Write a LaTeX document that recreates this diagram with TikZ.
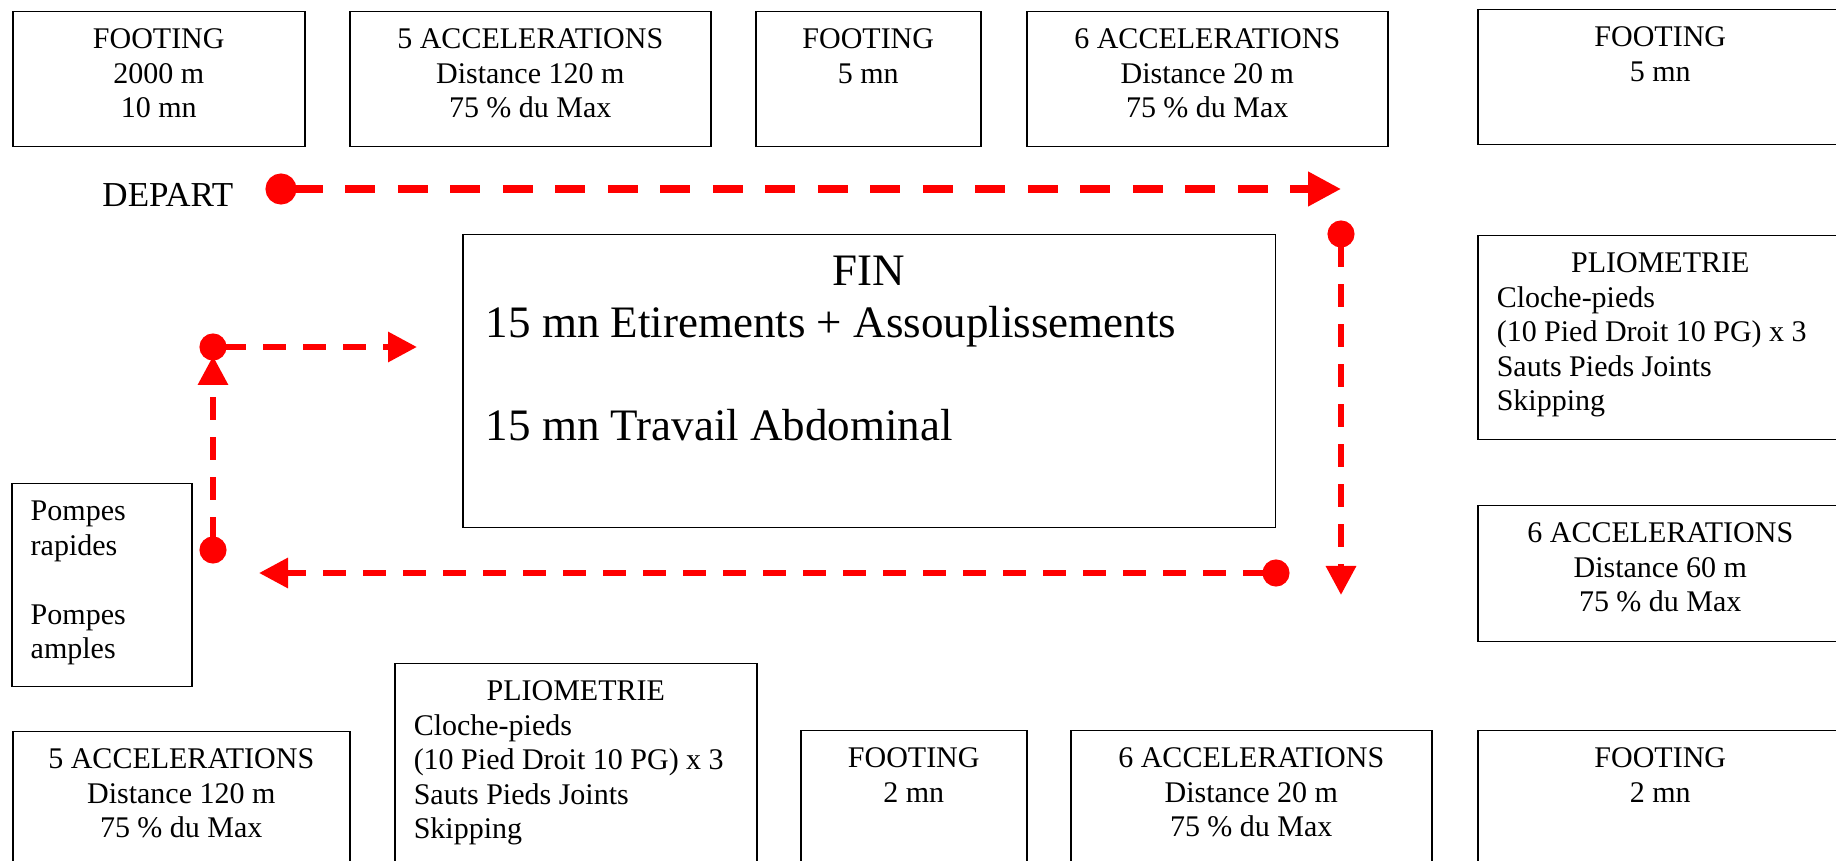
\documentclass[tikz,border=0pt]{standalone}
\usepackage{fontspec}
\setmainfont{Liberation Serif}
\usetikzlibrary{arrows.meta}

\tikzset{
  stage/.style 2 args={draw, line width=0.6pt, anchor=north west,
    inner xsep=7.6pt, inner ysep=0pt, align=flush center,
    font=\fontsize{12}{13.8}\selectfont,
    text width=#1-15.2pt, text height=14.8pt, text depth=#2-14.8pt},
  route/.style={draw=red, line width=2.5pt, dash pattern=on 9.2pt off 6.8pt,
    arrows={Circle[length=10.8pt]-Triangle[length=11.6pt,width=11.6pt]},
    shorten <=-5.4pt}
}

\begin{document}
\begin{tikzpicture}[x=1pt,y=-1pt]

      \useasboundingbox (0,0) rectangle (734.4,344.4);
      \clip (0,0) rectangle (734.4,344.4);

      \path node (foot1) at (4.8,4.4) [stage={116.8pt}{54pt}]
            {FOOTING\\2000 m\\10 mn};
      \path node (accel1) at (139.6,4.4) [stage={144.4pt}{54pt}]
            {5 ACCELERATIONS\\Distance 120 m\\75 \% du Max};
      \path node (foot2) at (302,4.4) [stage={90pt}{54pt}]
            {FOOTING\\5 mn};
      \path node (accel2) at (410.4,4.4) [stage={144.4pt}{54pt}]
            {6 ACCELERATIONS\\Distance 20 m\\75 \% du Max};
      \path node (foot3) at (590.8,3.6) [stage={146pt}{54pt}]
            {FOOTING\\5 mn};

      \path node (plio1) at (590.8,94) [stage={146pt}{81.6pt},align=flush left]
            {{\centering PLIOMETRIE\par}Cloche-pieds\\(10 Pied Droit 10 PG) x 3\\
             Sauts Pieds Joints\\Skipping};
      \path node (accel3) at (590.8,202) [stage={146pt}{54.4pt}]
            {6 ACCELERATIONS\\Distance 60 m\\75 \% du Max};

      \path node (pompes) at (4.4,193.2) [stage={72pt}{81.2pt},align=flush left]
            {Pompes\\rapides\\[13.8pt]Pompes\\amples};

      \path node (fin) at (184.8,93.6)
            [stage={325pt}{117.2pt},align=flush left,inner xsep=9.2pt,
             font=\fontsize{18}{20.7}\selectfont,
             text width=306.6pt,text height=20.4pt,text depth=96.8pt]
            {{\centering FIN\par}15 mn Etirements + Assouplissements\\[20.7pt]
             15 mn Travail Abdominal};

      \path node (accel4) at (4.8,292.4) [stage={134.8pt}{54pt}]
            {5 ACCELERATIONS\\Distance 120 m\\75 \% du Max};
      \path node (plio2) at (157.6,265.2) [stage={144.8pt}{81.6pt},align=flush left]
            {{\centering PLIOMETRIE\par}Cloche-pieds\\(10 Pied Droit 10 PG) x 3\\
             Sauts Pieds Joints\\Skipping};
      \path node (foot4) at (320,292) [stage={90.4pt}{54pt}]
            {FOOTING\\2 mn};
      \path node (accel5) at (428,292) [stage={144.4pt}{54pt}]
            {6 ACCELERATIONS\\Distance 20 m\\75 \% du Max};
      \path node (foot5) at (590.8,292) [stage={146pt}{54pt}]
            {FOOTING\\2 mn};

      \path node (depart) at (40.8,82.8) [anchor=base west,inner sep=0pt,
            font=\fontsize{14}{16}\selectfont] {DEPART};

      \coordinate (startdot) at (112.4,75.6);
      \coordinate (topend) at (536.4,75.6);
      \coordinate (rightdot) at (536.4,93.6);
      \coordinate (rightend) at (536.4,238);
      \coordinate (botdot) at (510.4,229.2);
      \coordinate (botend) at (103.6,229.2);
      \coordinate (leftdot) at (85.2,220);
      \coordinate (leftend) at (85.2,142.4);
      \coordinate (turndot) at (85.2,138.8);
      \coordinate (finend) at (166.8,138.8);

      \draw[route,line width=3pt,dash pattern=on 12pt off 9pt,
            arrows={Circle[length=12.4pt]-Triangle[length=13.2pt,width=13.2pt]},
            shorten <=-6.2pt] (startdot) -- (topend);
      \draw[route] (rightdot) -- (rightend);
      \draw[route] (botdot) -- (botend);
      \draw[route] (leftdot) -- (leftend);
      \draw[route] (turndot) -- (finend);
    \end{tikzpicture}
\end{document}
